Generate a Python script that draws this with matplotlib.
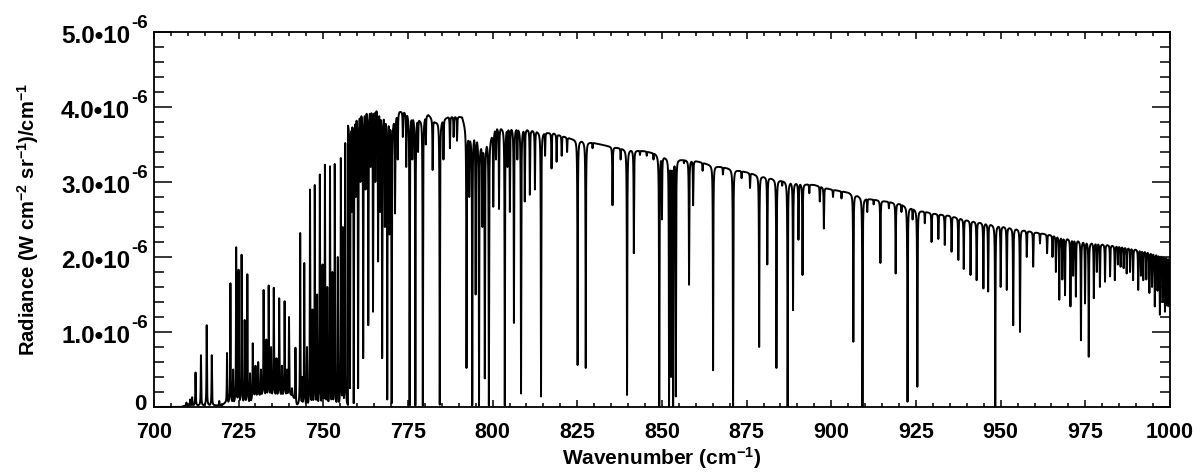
import numpy as np
import matplotlib.pyplot as plt
from matplotlib.ticker import MultipleLocator, NullFormatter

plt.rcParams["font.family"] = ["Liberation Sans", "DejaVu Sans"]
plt.rcParams["font.weight"] = "bold"
plt.rcParams["axes.labelweight"] = "bold"
plt.rcParams["mathtext.fontset"] = "custom"
plt.rcParams["mathtext.rm"] = "Liberation Sans:bold"
plt.rcParams["mathtext.it"] = "Liberation Sans:bold"
plt.rcParams["mathtext.bf"] = "Liberation Sans:bold"

# radiances below are in units of 1e-6 W cm^-2 sr^-1 / cm^-1

# --- low-radiance band centre (700-757 cm-1): emission spikes on a low floor
spike_wn = [709.6, 710.7, 711.3, 712.3, 713.9, 715.6, 717.1, 719.3,
            721.6, 722.6, 723.4, 724.3, 725.0, 725.9, 726.8, 727.6, 728.4,
            729.2, 730.0, 730.8, 731.6, 732.4, 733.2, 733.9, 734.6, 735.4,
            736.2, 737.0, 737.8, 738.6, 739.3, 739.9, 740.8, 741.8, 743.2,
            743.8, 744.4, 745.2, 746.1, 746.8, 747.5, 748.2, 749.0, 749.8,
            750.5, 751.2, 752.0, 752.7, 753.4, 754.3, 755.2, 755.8, 756.5]
spike_top = [0.06, 0.10, 0.13, 0.46, 0.69, 1.09, 0.69, 0.08,
             0.72, 1.65, 0.50, 2.13, 1.83, 2.03, 1.16, 1.77, 0.45,
             0.85, 0.55, 0.60, 0.50, 1.56, 0.90, 1.62, 0.80, 1.59,
             0.65, 1.45, 0.55, 1.41, 0.50, 1.20, 0.25, 0.79, 2.32,
             0.40, 1.92, 0.80, 2.90, 1.30, 2.96, 1.50, 3.10, 1.90,
             3.23, 1.60, 3.21, 1.80, 3.24, 2.00, 3.32, 2.40, 3.52]
floor_wn = [700.0, 708.0, 709.5, 720.0, 721.0, 728.5, 729.5, 741.0, 742.0, 757.3]
floor_rad = [0.0, 0.0, 0.02, 0.02, 0.05, 0.05, 0.15, 0.15, 0.02, 0.0]

# --- wing region (757-1000 cm-1): smooth continuum with absorption lines
cont_wn = [757.3, 760, 763, 766, 768.5, 770.5, 772.5, 774.5, 776, 778.5,
           781, 783, 785, 787, 791, 793, 795, 797, 799, 801, 806, 810,
           815, 818, 820, 823, 826, 830, 835, 840, 845, 848, 850, 855,
           860, 865, 870, 875, 880, 885, 890, 895, 900, 905, 910, 915,
           920, 925, 930, 935, 940, 945, 950, 955, 960, 965, 970, 975,
           980, 985, 990, 995, 1000]
cont_rad = [3.80, 3.91, 3.97, 3.99, 3.87, 3.80, 3.94, 3.93, 3.88, 3.83,
            3.90, 3.80, 3.82, 3.87, 3.87, 3.58, 3.62, 3.45, 3.55, 3.72, 3.72, 3.70,
            3.66, 3.65, 3.62, 3.58, 3.55, 3.52, 3.47, 3.43, 3.41, 3.38, 3.33, 3.30,
            3.28, 3.22, 3.18, 3.13, 3.07, 3.02, 2.98, 2.96, 2.90, 2.86, 2.78, 2.75,
            2.71, 2.63, 2.58, 2.55, 2.49, 2.45, 2.41, 2.37, 2.33, 2.29, 2.24, 2.20,
            2.17, 2.14, 2.10, 2.05, 2.00]

line_wn = [757.9, 758.4, 759.0, 759.6, 760.3, 761.0, 761.8, 762.5, 763.3, 764.0,
           764.7, 765.4, 766.2, 766.8, 767.4, 768.2, 768.9, 769.6, 770.2, 771.2,
           772.0, 773.5, 774.5, 775.5, 776.3, 777.2, 778.0, 779.4, 780.3, 782.3,
           784.4, 785.5, 787.4, 788.5, 789.5, 792.3, 793.1, 794.0, 795.0, 796.0,
           797.0, 797.7, 798.9, 800.2, 801.0, 801.9, 803.6, 804.4, 805.1, 806.3,
           807.3, 808.4, 809.5, 811.0, 812.5, 814.3, 815.5, 817.4, 818.9, 820.4,
           822.0, 825.1, 827.5, 829.5, 835.4, 837.8, 839.7, 841.7, 843.5, 845.5,
           847.5, 849.2, 850.0, 852.1, 852.7, 853.3, 854.1, 856.5, 858.0, 859.2,
           862.0, 865.1, 868.0, 871.0, 873.5, 876.0, 878.7, 881.1, 883.8, 885.5,
           887.1, 888.7, 890.3, 891.5, 893.5, 896.6, 897.8, 900.5, 903.0, 906.5,
           909.2, 910.6, 912.5, 914.5, 917.0, 919.0, 920.7, 922.5, 924.0, 925.4,
           927.6, 929.6, 931.6, 933.5, 935.5, 937.5, 939.1, 941.1, 942.9, 944.9,
           946.3, 948.4, 950.0, 951.8, 953.7, 955.7, 957.7, 959.6, 961.6, 963.7,
           965.3, 966.3, 967.3, 968.2, 969.0, 970.6, 971.4, 972.2, 973.7, 974.9,
           976.0, 977.5, 978.4, 979.3, 980.8, 982.3, 983.7, 984.6, 985.4, 986.3,
           987.2, 988.2, 989.1, 990.6, 991.4, 992.1, 993.0, 993.9, 994.7, 995.5,
           996.3, 997.0, 997.8, 998.5, 999.2, 999.8]
line_min = [0.25, 2.60, 0.05, 2.80, 0.25, 3.00, 0.65, 2.90, 1.09, 3.20,
            1.27, 3.00, 1.94, 2.60, 0.65, 2.40, 0.10, 2.30, 0.05, 2.58,
            3.30, 3.60, 3.20, 0.02, 3.30, 0.02, 3.40, 0.02, 3.50, 3.16,
            0.03, 3.30, 3.45, 3.60, 3.55, 0.52, 2.80, 0.02, 1.50, 0.02,
            2.40, 0.38, 0.02, 2.67, 3.30, 2.64, 0.02, 3.20, 2.60, 1.12,
            3.30, 0.18, 2.74, 2.83, 2.90, 0.14, 3.35, 3.18, 3.27, 3.35,
            3.40, 0.56, 0.52, 3.45, 2.69, 3.30, 0.16, 2.05, 3.36, 3.35,
            3.30, 0.00, 2.50, 0.00, 0.40, 0.00, 0.14, 3.25, 1.63, 2.69,
            3.15, 0.49, 3.10, 0.00, 3.05, 2.92, 0.80, 1.90, 0.52, 2.95,
            0.00, 1.29, 2.23, 1.76, 2.85, 2.74, 2.38, 2.80, 2.78, 0.87,
            0.00, 2.60, 2.70, 1.92, 2.65, 1.78, 2.60, 0.07, 2.50, 0.27,
            2.45, 2.20, 2.24, 2.16, 2.07, 1.96, 1.84, 1.76, 1.69, 1.58,
            1.54, 0.00, 1.60, 1.56, 1.09, 1.00, 2.00, 1.87, 2.18, 2.05,
            2.00, 1.80, 1.43, 1.70, 1.49, 1.34, 1.75, 1.47, 0.89, 1.38,
            0.67, 1.45, 1.80, 1.60, 1.67, 1.74, 1.69, 1.90, 1.87, 1.85,
            1.78, 1.80, 1.69, 1.56, 1.75, 1.69, 1.70, 1.52, 1.60, 1.34,
            1.55, 1.23, 1.40, 1.27, 1.35, 1.34]

ytick_vals = [0.0, 1.0, 2.0, 3.0, 4.0, 5.0]

# render the line list on a fine grid (narrow lorentzian-like profiles)
gamma = 0.07
split = 757.3
x = np.arange(700.0, 1000.0001, 0.01)
y = np.empty_like(x)

lo = x < split
xl = x[lo]
floor = np.interp(xl, floor_wn, floor_rad)
yl = floor.copy()
for w, t in zip(spike_wn, spike_top):
    fl = np.interp(w, floor_wn, floor_rad)
    yl = np.maximum(yl, floor + (t - fl) / (1 + ((xl - w) / gamma) ** 2))
y[lo] = yl

xh = x[~lo]
cont = np.interp(xh, cont_wn, cont_rad)
yh = cont.copy()
for w, d in zip(line_wn, line_min):
    c = np.interp(w, cont_wn, cont_rad)
    yh = np.minimum(yh, cont - (c - d) / (1 + ((xh - w) / gamma) ** 2))
y[~lo] = yh

fig = plt.figure(figsize=(12.02, 4.75), dpi=100)
ax = fig.add_axes([0.128, 0.1432, 0.8454, 0.7894])
ax.plot(x, y * 1e-6, color="black", lw=1.4)

ax.set_xlim(700, 1000)
ax.set_ylim(0, 5e-6)
ax.xaxis.set_major_locator(MultipleLocator(25))
ax.xaxis.set_minor_locator(MultipleLocator(5))
ax.yaxis.set_major_locator(MultipleLocator(1e-6))
ax.yaxis.set_minor_locator(MultipleLocator(0.2e-6))
ax.yaxis.set_major_formatter(NullFormatter())

ax.tick_params(which="both", direction="in", top=True, right=True, width=1.1,
               colors="black")
ax.tick_params(axis="x", which="major", length=5, pad=11, labelsize=15.5)
ax.tick_params(axis="x", which="minor", length=3)
ax.tick_params(axis="y", which="major", length=13)
ax.tick_params(axis="y", which="minor", length=7)
for s in ax.spines.values():
    s.set_linewidth(1.3)

# IDL-style "5.0•10^-6" labels with a large exponent
ytr = ax.get_yaxis_transform()
for v in ytick_vals:
    if v == 0:
        ax.annotate("0", xy=(0, 0), xycoords=ytr, xytext=(-5, 2),
                    textcoords="offset points", ha="right", va="center", fontsize=16)
        continue
    ax.annotate(f"{v:.1f}\u2022" + "10", xy=(0, v * 1e-6), xycoords=ytr,
                xytext=(-17, -8), textcoords="offset points",
                ha="right", va="baseline", fontsize=17.5)
    ax.annotate("-6", xy=(0, v * 1e-6), xycoords=ytr, xytext=(-4.5, 3),
                textcoords="offset points", ha="right", va="baseline", fontsize=13.5)

ax.set_xlabel("Wavenumber (cm$^{-1}$)", fontsize=15, labelpad=1)
ax.set_ylabel("Radiance (W cm$^{-2}$ sr$^{-1}$)/cm$^{-1}$", fontsize=14.5, labelpad=78)

fig.savefig("out.png", dpi=100)
